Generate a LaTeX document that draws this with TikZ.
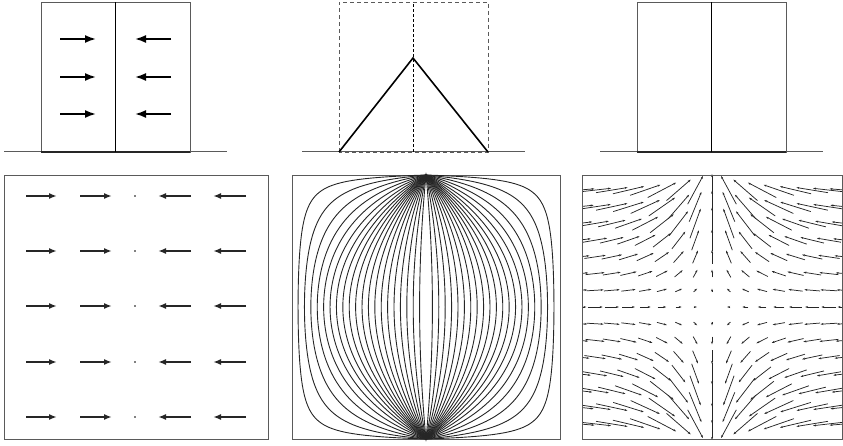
\documentclass[tikz,border=0pt]{standalone}
\usetikzlibrary{arrows.meta}
\definecolor{skgray}{HTML}{5A5A5A}
\tikzset{
  ground/.style={line width=1pt, draw=skgray},
  wall/.style={line width=0.9pt, draw=skgray},
  base/.style={line width=1.2pt, draw=black!85},
  midline/.style={line width=0.8pt, draw=black},
  ghost/.style={line width=0.9pt, draw=skgray, dash pattern=on 4pt off 3pt},
  ghostmid/.style={line width=0.8pt, draw=black, dash pattern=on 3pt off 2pt},
  tent/.style={line width=1.6pt, draw=black},
  magarrow/.style={line width=1.8pt, -{Latex[length=11pt,width=8pt]}},
  fieldarrow/.style={line width=1.6pt, draw=black!85, -{Latex[length=8pt,width=6pt]}},
  frame/.style={line width=0.9pt, draw=skgray},
  contour/.style={line width=0.9pt, draw=black!85},
  quiver/.style={line width=0.75pt, draw=black!85, -{Stealth[length=3pt,width=2pt]}},
}

\begin{document}
\begin{tikzpicture}[x=1pt,y=1pt]
  \useasboundingbox (0,0) rectangle (843,445);
  % top left: two domains, head to head
  \draw[ground] (4,293) -- (227,293);
  \draw[wall] (41,293) rectangle (190,443);
  \draw[base] (41,293) -- (190,293);
  \draw[midline] (115,293) -- (115,443);
  \foreach \y in {406,368,331}{
    \draw[magarrow] (60,\y) -- (96,\y);
    \draw[magarrow] (171,\y) -- (135,\y);
  }
  % top middle: tent profile
  \draw[ground] (302,293) -- (525,293);
  \draw[ghost] (339,293) rectangle (488,443);
  \draw[ghostmid] (413,293) -- (413,443);
  \draw[tent] (339,293) -- (413,387) -- (488,293);
  % top right: plain wall
  \draw[ground] (600,293) -- (823,293);
  \draw[wall] (637,293) rectangle (786,443);
  \draw[base] (637,293) -- (786,293);
  \draw[midline] (711,293) -- (711,443);

  % bottom left: magnetisation
  \draw[frame] (4,6) rectangle (268,270);
  \foreach \y in {249,194,139,83,28}{
    \draw[fieldarrow] (26,\y) -- (57,\y);
    \draw[fieldarrow] (80,\y) -- (112,\y);
    \fill (135,\y) circle[radius=0.8];
    \draw[fieldarrow] (191,\y) -- (158,\y);
    \draw[fieldarrow] (246,\y) -- (213,\y);
  }

  % bottom middle: lens-shaped level lines, all through the two tips
  \draw[frame] (292,6) rectangle (560,270);
  \foreach \k in {1,...,20}{
    \pgfmathsetmacro\a{0.955*\k/20}
    \pgfmathsetmacro\c{\a^(1+10*(1-\a))}
    \draw[contour] plot[domain=0:360, samples=241, variable=\t]
      ({426+134*\a*cos(\t)*abs(cos(\t))/(1-\c*sin(\t)*sin(\t))},{138+132*sin(\t)}) -- cycle;
  }

  % bottom right: stray field, 15 x 17 grid
  \begin{scope}
    \clip (582,6) rectangle (842.5,270);
    \foreach \j in {-8,...,8}{
      \foreach \k in {-7,...,7}{
        \pgfmathsetmacro\u{\j*16.7/130}
        \pgfmathsetmacro\v{\k*16.7/132}
        \pgfmathsetmacro\dd{cosh(pi*\u/1.15)+cos(180*\v/1.15)}
        \pgfmathsetmacro\vx{-sinh(pi*\u/1.15)/\dd}
        \pgfmathsetmacro\vy{sin(180*\v/1.15)/\dd}
        \pgfmathsetmacro\f{min(18*(1+0.8*abs(\v)),32/max(sqrt(\vx*\vx+\vy*\vy),0.1))}
        \pgfmathtruncatemacro\skip{(\j==0 && \k==0) ? 1 : 0}
        \ifnum\skip=0
          \draw[quiver] ({712+\j*16.7-0.5*\f*\vx},{138+\k*16.7-0.5*\f*\vy}) -- ++({\f*\vx},{\f*\vy});
        \fi
      }
    }
  \end{scope}
  \draw[frame] (582,6) rectangle (842.5,270);
\end{tikzpicture}
\end{document}
